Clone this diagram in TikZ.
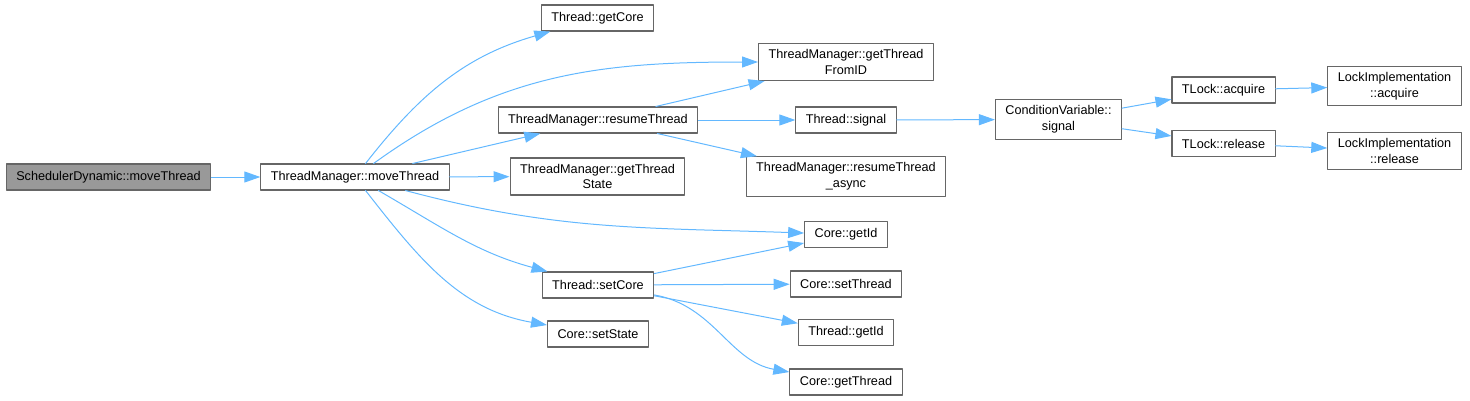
\documentclass[tikz,border=0pt]{standalone}
\usepackage{fontspec}
\setmainfont{Liberation Sans}
\usetikzlibrary{arrows.meta}
\definecolor{callblue}{RGB}{99,184,255}
\definecolor{boxgray}{RGB}{102,102,102}
\definecolor{rootgray}{RGB}{153,153,153}
\tikzset{
  every node/.style={font=\fontsize{9.5pt}{11.8pt}\selectfont},
  func/.style={draw=boxgray, fill=white, line width=0.8pt, align=center,
    inner xsep=7.5pt, inner ysep=4.5pt, minimum height=19.5pt},
  root func/.style={func, fill=rootgray},
  call/.style={draw=callblue, line width=0.75pt,
    -{Triangle[length=12pt, width=8.25pt]}}
}

\begin{document}
\begin{tikzpicture}[x=0.75pt, y=-0.75pt, line cap=round, line join=round]
  \useasboundingbox (0,0) rectangle (1470,400);

  \node[root func] (sd) at (108.5,177) {SchedulerDynamic::moveThread};
  \node[func] (tm) at (355,177) {ThreadManager::moveThread};

  \node[func] (getcore) at (597.5,18) {Thread::getCore};
  \node[func] (resume) at (598,120) {ThreadManager::resumeThread};
  \node[func] (state) at (597.5,176.5) {ThreadManager::getThread\\State};
  \node[func] (setcore) at (598,285) {Thread::setCore};
  \node[func] (setstate) at (598,334) {Core::setState};

  \node[func] (fromid) at (846,62) {ThreadManager::getThread\\FromID};
  \node[func] (signal) at (846,120) {Thread::signal};
  \node[func] (async) at (846,176.5) {ThreadManager::resumeThread\\\_async};
  \node[func] (getid) at (846,234.5) {Core::getId};
  \node[func] (setthread) at (846,284) {Core::setThread};
  \node[func] (tgetid) at (846,332.5) {Thread::getId};
  \node[func] (getthread) at (846,382) {Core::getThread};

  \node[func] (cv) at (1058.5,119.5) {ConditionVariable::\\signal};
  \node[func] (acquire) at (1223.5,90) {TLock::acquire};
  \node[func] (release) at (1223.5,143.5) {TLock::release};
  \node[func] (lacq) at (1394.5,86) {LockImplementation\\::acquire};
  \node[func] (lrel) at (1394.5,151) {LockImplementation\\::release};

  % calls from moveThread
  \draw[call] (sd) -- (tm);
  \draw[call] (tm) to[out=52, in=196] (getcore);
  \draw[call] (tm) to[out=36, in=180] (fromid);
  \draw[call] (tm) -- (resume);
  \draw[call] (tm) -- (state);
  \draw[call] (tm) to[out=-15, in=178] (getid);
  \draw[call] (tm) to[out=-30, in=165] (setcore);
  \draw[call] (tm) to[out=-52, in=170] (setstate);

  \draw[call] (resume) -- (fromid);
  \draw[call] (resume) -- (signal);
  \draw[call] (resume) -- (async);
  \draw[call] (signal) -- (cv);
  \draw[call] (cv) -- (acquire);
  \draw[call] (cv) -- (release);
  \draw[call] (acquire) -- (lacq);
  \draw[call] (release) -- (lrel);

  \draw[call] (setcore) -- (getid);
  \draw[call] (setcore) -- (setthread);
  \draw[call] (setcore) -- (tgetid);
  \draw[call] (setcore) to[out=-10, in=170] (getthread);
\end{tikzpicture}
\end{document}
